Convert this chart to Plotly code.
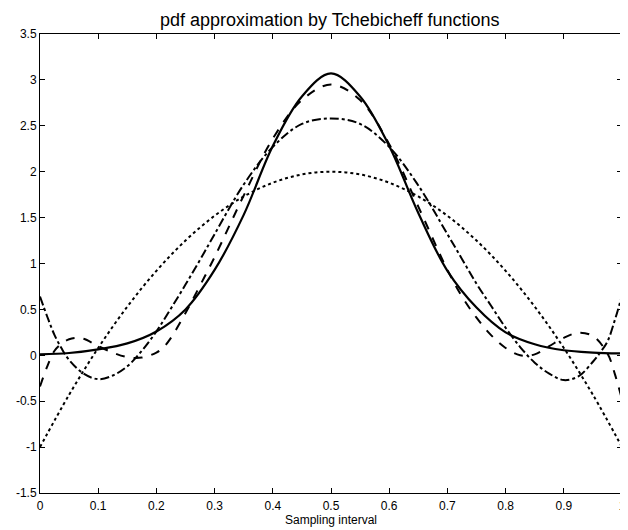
import plotly.graph_objects as go

# True pdf (solid)
x_true = [0, 0.05, 0.1, 0.15, 0.2, 0.25, 0.3, 0.35, 0.4, 0.45, 0.5,
          0.55, 0.6, 0.65, 0.7, 0.75, 0.8, 0.85, 0.9, 0.95, 1.0]
y_true = [0.01, 0.025, 0.065, 0.13, 0.26, 0.50, 0.93, 1.53, 2.28, 2.82, 3.07,
          2.82, 2.28, 1.55, 0.92, 0.52, 0.25, 0.12, 0.055, 0.03, 0.02]

# Low-order approximation (dotted)
x_dot = [0, 0.05, 0.1, 0.15, 0.2, 0.25, 0.3, 0.35, 0.4, 0.45, 0.5,
         0.55, 0.6, 0.65, 0.7, 0.75, 0.8, 0.85, 0.9, 0.95, 1.0]
y_dot = [-1.0, -0.43, 0.08, 0.53, 0.92, 1.25, 1.52, 1.73, 1.88, 1.97, 2.0,
         1.97, 1.88, 1.73, 1.52, 1.25, 0.92, 0.53, 0.08, -0.43, -1.0]

# Medium-order approximation (dash-dot)
x_dd = [0, 0.0125, 0.025, 0.0375, 0.05, 0.075, 0.1, 0.125, 0.15, 0.175, 0.2,
        0.225, 0.25, 0.275, 0.3, 0.35, 0.4, 0.45, 0.5, 0.55, 0.6, 0.65, 0.7, 0.725, 0.75,
        0.775, 0.8, 0.825, 0.85, 0.875, 0.9, 0.925, 0.95, 0.9625, 0.975, 0.9875, 1.0]
y_dd = [0.64, 0.42, 0.22, 0.07, -0.05, -0.20, -0.26, -0.22, -0.12, 0.05, 0.26,
        0.51, 0.77, 1.04, 1.32, 1.86, 2.27, 2.52, 2.58, 2.52, 2.27, 1.85, 1.32, 1.05, 0.78,
        0.54, 0.30, 0.09, -0.08, -0.20, -0.27, -0.23, -0.07, 0.03, 0.15, 0.38, 0.65]

# Higher-order approximation (dashed)
x_da = [0, 0.0125, 0.025, 0.0375, 0.05, 0.0625, 0.075, 0.1, 0.125, 0.15, 0.175,
        0.2, 0.2125, 0.225, 0.25, 0.275, 0.3, 0.35, 0.4, 0.45, 0.5, 0.55, 0.6, 0.65, 0.7,
        0.725, 0.75, 0.775, 0.8, 0.825, 0.85, 0.875, 0.9, 0.925, 0.95, 0.975, 0.9875, 1.0]
y_da = [-0.34, -0.12, 0.05, 0.13, 0.175, 0.19, 0.18, 0.10, 0.03, -0.02, -0.025,
        0.03, 0.09, 0.19, 0.46, 0.76, 1.07, 1.74, 2.36, 2.78, 2.95, 2.78, 2.30, 1.62, 0.93,
        0.64, 0.41, 0.22, 0.08, 0.0, 0.01, 0.10, 0.19, 0.245, 0.21, 0.02, -0.2, -0.48]

x_ticks = [0, 0.1, 0.2, 0.3, 0.4, 0.5, 0.6, 0.7, 0.8, 0.9, 1]
x_tick_text = ["0", "0.1", "0.2", "0.3", "0.4", "0.5", "0.6", "0.7", "0.8", "0.9", "1"]
y_ticks = [-1.5, -1, -0.5, 0, 0.5, 1, 1.5, 2, 2.5, 3, 3.5]
y_tick_text = ["-1.5", "-1", "-0.5", "0", "0.5", "1", "1.5", "2", "2.5", "3", "3.5"]

fig = go.Figure()
fig.add_trace(go.Scatter(x=x_dot, y=y_dot, mode="lines",
                         line=dict(color="black", width=2, dash="dot", shape="spline")))
fig.add_trace(go.Scatter(x=x_dd, y=y_dd, mode="lines",
                         line=dict(color="black", width=2, dash="dashdot", shape="spline")))
fig.add_trace(go.Scatter(x=x_da, y=y_da, mode="lines",
                         line=dict(color="black", width=2, dash="dash", shape="spline")))
fig.add_trace(go.Scatter(x=x_true, y=y_true, mode="lines",
                         line=dict(color="black", width=2.2, shape="spline")))

axis_common = dict(showgrid=False, zeroline=False, showline=True, linecolor="black",
                   linewidth=1, mirror="ticks", ticks="inside", ticklen=5,
                   tickcolor="black", automargin=False, ticklabeloverflow="allow",
                   tickfont=dict(family="Liberation Sans", size=12, color="black"))

# page body has an 8px margin, so the figure is sized 8px smaller in each direction
fig.update_layout(
    width=620, height=522,
    margin=dict(l=32, r=6, t=26, b=37),
    paper_bgcolor="white", plot_bgcolor="white",
    showlegend=False,
    title=dict(text="pdf approximation by Tchebicheff functions",
               x=0.519, xanchor="center", y=0.978, yanchor="middle",
               font=dict(family="Liberation Sans", size=18, color="black")),
    xaxis=dict(range=[0, 1], tickvals=x_ticks, ticktext=x_tick_text,
               ticklabelstandoff=2,
               title=dict(text="Sampling interval", standoff=0,
                          font=dict(family="Liberation Sans", size=12, color="black")),
               **axis_common),
    yaxis=dict(range=[-1.5, 3.5], tickvals=y_ticks, ticktext=y_tick_text, **axis_common),
)

fig.write_html("out.html")
